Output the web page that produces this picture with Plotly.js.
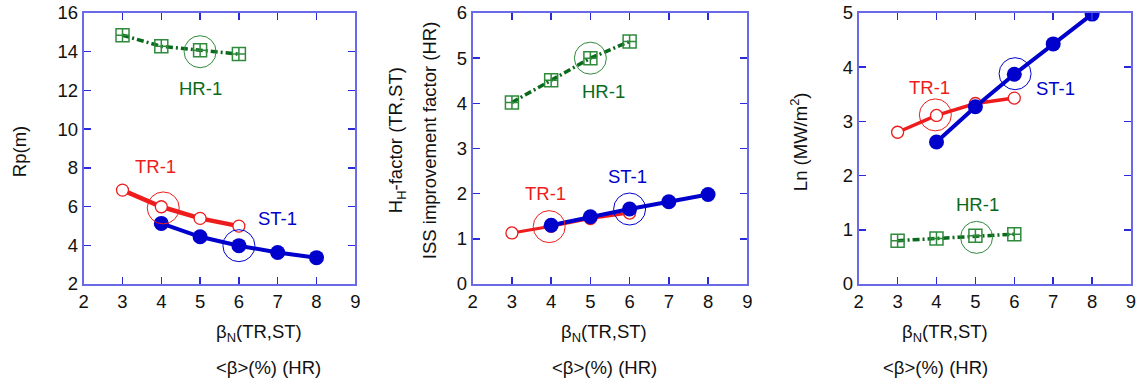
<!DOCTYPE html>
<html>
<head>
<meta charset="utf-8">
<script src="https://cdn.plot.ly/plotly-3.0.1.min.js"></script>
<style>html,body{margin:0;padding:0;background:#fff;}#chart{width:1145px;height:385px;}</style>
</head>
<body>
<div id="chart"></div>
<script>
// ---- data ----
const xHR = [3, 4, 5, 6];
const xTR = [3, 4, 5, 6];
const xST = [4, 5, 6, 7, 8];

const rpHR = [14.85, 14.28, 14.08, 13.88];
const rpTR = [6.85, 5.99, 5.39, 4.99];
const rpST = [5.13, 4.44, 3.98, 3.63, 3.36];

const hHR = [4.02, 4.51, 5.0, 5.37];
const hTR = [1.13, 1.28, 1.45, 1.57];
const hST = [1.30, 1.49, 1.66, 1.82, 1.98];

const lnHR = [0.80, 0.84, 0.89, 0.92];
const lnTR = [2.80, 3.11, 3.33, 3.43];
const lnST = [2.62, 3.27, 3.87, 4.43, 4.98];

// highlighted design points [HR, TR, ST]
const hiX_rp = [5.0, 4.05, 6.0];
const hiY_rp = [14.0, 5.93, 3.98];
const hiX_h = [5.0, 3.95, 6.0];
const hiY_h = [5.0, 1.27, 1.66];
const hiX_ln = [5.03, 3.97, 6.02];
const hiY_ln = [0.86, 3.12, 3.88];

// series labels [HR, TR, ST]
const seriesNames = ["HR-1", "TR-1", "ST-1"];
const labX_rp = [5.0, 3.84, 6.99];
const labY_rp = [12.1, 8.05, 5.39];
const labX_h = [5.33, 3.86, 5.94];
const labY_h = [4.27, 2.0, 2.39];
const labX_ln = [5.05, 3.83, 7.05];
const labY_ln = [1.47, 3.63, 3.61];

const xTickVals = [2, 3, 4, 5, 6, 7, 8, 9];

// ---- styles ----
const GREEN = "#0a6a1c", GREEN_M = "#2f8a3c", RED = "#ee1c1c", BLUE = "#0000cc";
const hiColors = [GREEN_M, RED, BLUE];
const FONT = "Liberation Sans, Arial, sans-serif";
const FS = 18.5;

function panel(xa, ya, hr, tr, st, hiX, hiY, trw) {
  return [
    {x: xHR, y: hr, xaxis: xa, yaxis: ya, mode: "lines+markers",
     line: {color: GREEN, width: 3.5, dash: "7px,3px,2px,3px"},
     marker: {symbol: "square-cross-open", size: 13, color: GREEN_M, line: {width: 1.5, color: GREEN_M}}},
    {x: xTR, y: tr, xaxis: xa, yaxis: ya, mode: "lines+markers",
     line: {color: RED, width: trw},
     marker: {symbol: "circle", size: 12, color: "#ffffff", line: {width: 1.3, color: RED}}},
    {x: xST, y: st, xaxis: xa, yaxis: ya, mode: "lines+markers",
     line: {color: BLUE, width: 4},
     marker: {symbol: "circle", size: 15, color: BLUE, line: {width: 0}}},
    {x: hiX, y: hiY, xaxis: xa, yaxis: ya, mode: "markers",
     marker: {symbol: "circle-open", size: 32, color: hiColors, line: {width: 1, color: hiColors}}}
  ];
}

const data = [].concat(
  panel("x", "y", rpHR, rpTR, rpST, hiX_rp, hiY_rp, 4.5),
  panel("x2", "y2", hHR, hTR, hST, hiX_h, hiY_h, 3),
  panel("x3", "y3", lnHR, lnTR, lnST, hiX_ln, hiY_ln, 3.5)
);

const W = 1145;
function xax(dom, anchor) {
  return {domain: dom, anchor: anchor, range: [2, 9], tickvals: xTickVals,
    showline: true, linecolor: "#6a6ae8", linewidth: 2, mirror: "ticks",
    ticks: "inside", ticklen: 7, tickwidth: 1.5, tickcolor: "#2a2ad8",
    showgrid: false, zeroline: false, tickfont: {size: FS, color: "#111", family: FONT}};
}
function yax(range, dtick, anchor) {
  return {domain: [0, 1], anchor: anchor, range: range, dtick: dtick,
    showline: true, linecolor: "#6a6ae8", linewidth: 2, mirror: "ticks",
    ticks: "inside", ticklen: 7, tickwidth: 1.5, tickcolor: "#2a2ad8",
    showgrid: false, zeroline: false, tickfont: {size: FS, color: "#111", family: FONT}};
}

const dom1 = [83.7 / W, 355.3 / W];
const dom2 = [472.7 / W, 747.3 / W];
const dom3 = [858.7 / W, 1131 / W];

const annotations = [];
const labColors = [GREEN, RED, BLUE];
function addLabels(xref, yref, lx, ly) {
  for (let i = 0; i < 3; i++) {
    annotations.push({xref: xref, yref: yref, x: lx[i], y: ly[i], text: seriesNames[i],
      showarrow: false, font: {size: FS, color: labColors[i], family: FONT}});
  }
}
addLabels("x", "y", labX_rp, labY_rp);
addLabels("x2", "y2", labX_h, labY_h);
addLabels("x3", "y3", labX_ln, labY_ln);

const PH = 385 - 12.7 - 101;
function xTitles(cx) {
  annotations.push({xref: "paper", yref: "paper", x: cx / W, y: -(333 - 284) / PH,
    yanchor: "middle", text: "β<sub>N</sub>(TR,ST)", showarrow: false, font: {size: FS, color: "#111", family: FONT}});
  annotations.push({xref: "paper", yref: "paper", x: cx / W, y: -(368 - 284) / PH,
    yanchor: "middle", text: "&lt;β&gt;(%) (HR)", showarrow: false, font: {size: FS, color: "#111", family: FONT}});
}
xTitles(214); xTitles(604); xTitles(990);

function yTitle(px, py, text) {
  annotations.push({xref: "paper", yref: "paper", x: px / W, y: (284 - py) / PH,
    xanchor: "center", yanchor: "middle", textangle: -90, text: text, showarrow: false,
    font: {size: FS, color: "#111", family: FONT}});
}
yTitle(19, 152, "Rp(m)");
yTitle(397, 140, "H<sub>H</sub>-factor (TR,ST)");
yTitle(429, 140, "ISS improvement factor (HR)");
yTitle(799, 142, "Ln (MW/m<sup>2</sup>)");

const layout = {
  width: 1145, height: 385,
  margin: {l: 0, r: 0, t: 12.7, b: 101, pad: 0},
  paper_bgcolor: "#ffffff", plot_bgcolor: "#ffffff",
  showlegend: false,
  font: {family: FONT, color: "#111"},
  xaxis: xax(dom1, "y"), yaxis: yax([2, 16], 2, "x"),
  xaxis2: xax(dom2, "y2"), yaxis2: yax([0, 6], 1, "x2"),
  xaxis3: xax(dom3, "y3"), yaxis3: yax([0, 5], 1, "x3"),
  annotations: annotations
};

Plotly.newPlot("chart", data, layout, {staticPlot: true, displayModeBar: false});
</script>
</body>
</html>
